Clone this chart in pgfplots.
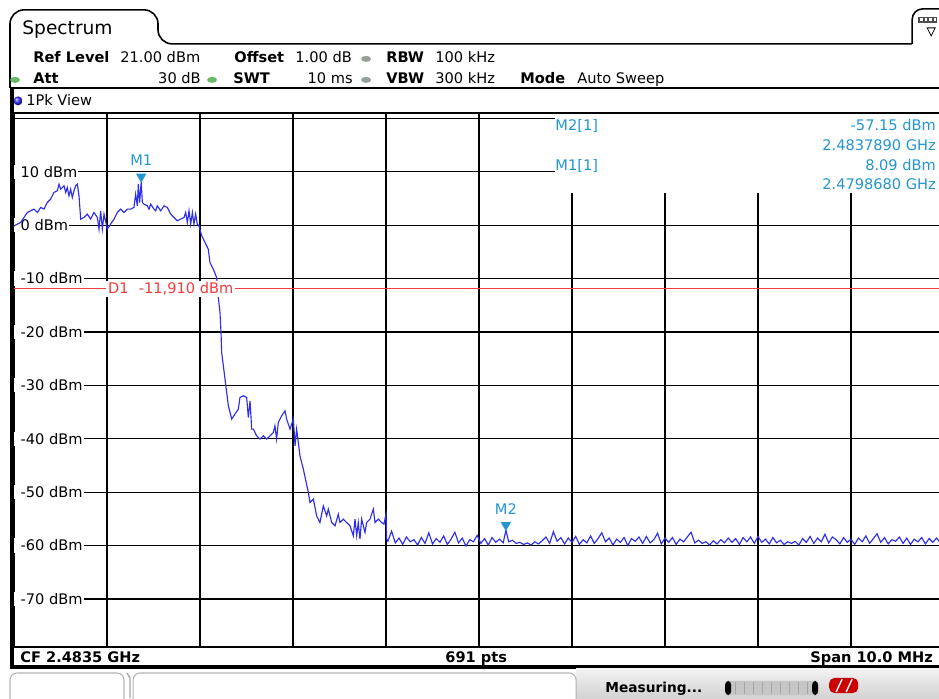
\documentclass[border=0pt]{standalone}
\usepackage{fontspec}
\setmainfont{DejaVu Sans}
\usepackage{pgfplots}
\pgfplotsset{compat=1.18}
\definecolor{trace}{RGB}{45,45,235}
\definecolor{mkc}{RGB}{35,150,210}
\definecolor{dline}{RGB}{240,60,60}
\definecolor{ledg}{RGB}{105,185,105}
\definecolor{ledq}{RGB}{150,160,150}
\newcommand\sz{\fontsize{8.3}{10}\selectfont}

\begin{document}
\begin{tikzpicture}
\path[use as bounding box] (0,0) rectangle (18.78cm,13.96cm);
\clip (0,0) rectangle (18.78cm,13.96cm);

% screen frame, header and status bar (1 unit = 1 screen pixel)
\begin{scope}[x=0.02cm,y=0.02cm]
\draw[line width=0.9pt, rounded corners=8] (10,610) -- (10,688) -- (158,688) -- (158,654) -- (912,654);
\draw[line width=0.9pt, rounded corners=6] (912,654) -- (912,689) -- (960,689);
\fill[black!70] (918,675) rectangle (937,681);
\foreach \i in {0,1,2,3} \fill[white] (920+4.5*\i,676.5) rectangle (922.5+4.5*\i,679.5);
\draw[line width=0.5pt] (927,670) -- (935,670) -- (931,662) -- cycle;
\node[anchor=base west, inner sep=0, font=\fontsize{10.6}{12}\selectfont] at (22,663) {Spectrum};
\draw[line width=0.9pt] (10,610) -- (939,610);
% header rows
\node[anchor=base west, inner sep=0, font=\sz\bfseries] at (33,635) {Ref Level};
\node[anchor=base west, inner sep=0, font=\sz] at (120,635) {21.00 dBm};
\node[anchor=base west, inner sep=0, font=\sz\bfseries] at (234,635) {Offset};
\node[anchor=base west, inner sep=0, font=\sz] at (295,635) {1.00 dB};
\fill[ledq] (366,639) ellipse (5 and 3);
\node[anchor=base west, inner sep=0, font=\sz\bfseries] at (386,635) {RBW};
\node[anchor=base west, inner sep=0, font=\sz] at (435,635) {100 kHz};
\fill[ledg] (15,618) ellipse (5 and 3);
\node[anchor=base west, inner sep=0, font=\sz\bfseries] at (33,614) {Att};
\node[anchor=base east, inner sep=0, font=\sz] at (201,614) {30 dB};
\fill[ledg] (212,618) ellipse (5 and 3);
\node[anchor=base west, inner sep=0, font=\sz\bfseries] at (233,614) {SWT};
\node[anchor=base east, inner sep=0, font=\sz] at (353,614) {10 ms};
\fill[ledq] (366,618) ellipse (5 and 3);
\node[anchor=base west, inner sep=0, font=\sz\bfseries] at (386,614) {VBW};
\node[anchor=base west, inner sep=0, font=\sz] at (435,614) {300 kHz};
\node[anchor=base west, inner sep=0, font=\sz\bfseries] at (520,614) {Mode};
\node[anchor=base west, inner sep=0, font=\sz] at (577,614) {Auto Sweep};
\shade[ball color=blue!80] (18,597) circle (4.5);
\node[anchor=base west, inner sep=0, font=\sz] at (26,592) {1Pk View};
% bottom line and status bar
\draw[line width=2.2pt] (12,610) -- (12,31);
\draw[line width=2.2pt] (10,31) -- (939,31);
\node[anchor=base west, inner sep=0, font=\sz\bfseries] at (20,35) {CF 2.4835 GHz};
\node[anchor=base west, inner sep=0, font=\sz\bfseries] at (445,35) {691 pts};
\node[anchor=base east, inner sep=0, font=\sz\bfseries] at (933,35) {Span 10.0 MHz};
\shade[top color=gray!10, bottom color=gray!35] (576,0) rectangle (939,29);
\draw[gray!60, line width=0.6pt, rounded corners=4] (10,-10) -- (10,25) -- (124,25) -- (124,-10);
\draw[gray!60, line width=0.6pt, rounded corners=4] (133,-10) -- (133,25) -- (576,25) -- (576,-10);
\draw[gray!70, line width=0.8pt] (127,25) -- (130,20) -- (130,0);
\node[anchor=base west, inner sep=0, font=\fontsize{7.8}{9}\selectfont\bfseries] at (605,6) {Measuring...};
\fill[gray!45, rounded corners=2] (725,3) rectangle (818,17);
\foreach \i in {0,...,8} \draw[gray!70, line width=0.4pt] (735+9*\i,4) -- (735+9*\i,16);
\fill[black, rounded corners=2] (725,3) rectangle (731,17);
\fill[black, rounded corners=2] (812,3) rectangle (818,17);
\fill[red!80!black, rounded corners=3] (829,5) rectangle (858,20);
\draw[white, line width=0.8pt] (836,6) -- (842,19) (846,6) -- (852,19);
\end{scope}

\begin{axis}[
  at={(0.28cm,1.02cm)}, anchor=south west,
  width=18.6cm, height=10.68cm, scale only axis,
  xmin=2478.5, xmax=2488.5, ymin=-79, ymax=21,
  xtick={2479.5,2480.5,...,2487.5}, ytick={-70,-60,...,20},
  xticklabels={}, yticklabels={}, major tick length=0pt,
  grid=major, major grid style={black, line width=0.7pt},
  axis line style={black, line width=0.8pt},
]
% level labels on the left, drawn under the trace
\node[anchor=west, fill=white, inner xsep=0.6pt, inner ysep=0.8pt, font=\sz] at (axis cs:2478.5,10) {\kern3pt 10 dBm};
\node[anchor=west, fill=white, inner xsep=0.6pt, inner ysep=0.8pt, font=\sz] at (axis cs:2478.5,0) {\kern3pt 0 dBm};
\node[anchor=west, fill=white, inner xsep=0.6pt, inner ysep=0.8pt, font=\sz] at (axis cs:2478.5,-10) {\kern3pt -10 dBm};
\node[anchor=west, fill=white, inner xsep=0.6pt, inner ysep=0.8pt, font=\sz] at (axis cs:2478.5,-20) {\kern3pt -20 dBm};
\node[anchor=west, fill=white, inner xsep=0.6pt, inner ysep=0.8pt, font=\sz] at (axis cs:2478.5,-30) {\kern3pt -30 dBm};
\node[anchor=west, fill=white, inner xsep=0.6pt, inner ysep=0.8pt, font=\sz] at (axis cs:2478.5,-40) {\kern3pt -40 dBm};
\node[anchor=west, fill=white, inner xsep=0.6pt, inner ysep=0.8pt, font=\sz] at (axis cs:2478.5,-50) {\kern3pt -50 dBm};
\node[anchor=west, fill=white, inner xsep=0.6pt, inner ysep=0.8pt, font=\sz] at (axis cs:2478.5,-60) {\kern3pt -60 dBm};
\node[anchor=west, fill=white, inner xsep=0.6pt, inner ysep=0.8pt, font=\sz] at (axis cs:2478.5,-70) {\kern3pt -70 dBm};

% 1Pk trace (MHz, dBm)
\addplot[trace, line width=0.65pt, mark=none] coordinates {
(2478.500,-0.12) (2478.572,0.50) (2478.643,2.37) (2478.679,2.68) (2478.715,3.00)
(2478.751,2.37) (2478.787,3.31) (2478.823,3.00) (2478.858,4.24) (2478.894,4.87)
(2478.930,6.12) (2478.966,6.43) (2478.984,7.68) (2479.002,6.74) (2479.038,7.37)
(2479.056,6.12) (2479.073,7.05) (2479.091,5.49) (2479.109,6.74) (2479.127,5.18)
(2479.145,6.43) (2479.163,7.37) (2479.181,7.68) (2479.199,5.49) (2479.217,1.12)
(2479.253,1.44) (2479.289,2.06) (2479.324,1.12) (2479.360,2.37) (2479.396,1.44)
(2479.414,-0.75) (2479.432,2.68) (2479.450,-0.75) (2479.468,2.06) (2479.504,-0.75)
(2479.539,0.19) (2479.575,1.12) (2479.611,2.37) (2479.647,3.00) (2479.683,2.37)
(2479.719,3.00) (2479.754,3.00) (2479.790,3.31) (2479.808,5.81) (2479.826,3.62)
(2479.837,7.68) (2479.851,4.24) (2479.868,8.09) (2479.880,4.24) (2479.898,3.93)
(2479.934,3.62) (2479.952,3.00) (2479.970,3.93) (2480.005,3.00) (2480.023,2.68)
(2480.041,3.62) (2480.077,2.68) (2480.113,3.62) (2480.149,3.31) (2480.185,2.06)
(2480.220,1.44) (2480.256,0.81) (2480.292,1.12) (2480.328,1.44) (2480.346,2.37)
(2480.364,0.50) (2480.382,2.68) (2480.400,0.19) (2480.418,2.37) (2480.435,0.19)
(2480.453,2.06) (2480.471,0.19) (2480.489,-0.12) (2480.518,-2.00) (2480.554,-3.25)
(2480.589,-4.49) (2480.607,-6.99) (2480.643,-8.24) (2480.679,-9.80) (2480.697,-13.55)
(2480.715,-16.35) (2480.726,-20.10) (2480.733,-23.85) (2480.751,-26.34) (2480.769,-28.84)
(2480.805,-33.83) (2480.841,-36.33) (2480.876,-35.39) (2480.912,-34.46) (2480.930,-32.27)
(2480.966,-31.96) (2481.002,-32.27) (2481.020,-36.02) (2481.038,-32.90) (2481.056,-38.20)
(2481.074,-38.20) (2481.109,-39.45) (2481.145,-40.07) (2481.181,-39.45) (2481.217,-40.07)
(2481.253,-39.45) (2481.289,-38.83) (2481.306,-37.58) (2481.324,-40.07) (2481.342,-36.95)
(2481.378,-35.71) (2481.414,-34.77) (2481.432,-36.33) (2481.468,-38.20) (2481.504,-36.33)
(2481.522,-41.32) (2481.539,-38.20) (2481.557,-40.70) (2481.575,-43.20) (2481.611,-45.69)
(2481.665,-50.06) (2481.683,-51.94) (2481.719,-51.31) (2481.754,-54.43) (2481.790,-55.68)
(2481.826,-52.56) (2481.862,-54.43) (2481.880,-53.18) (2481.916,-55.68) (2481.952,-56.30)
(2481.987,-54.12) (2482.005,-55.68) (2482.041,-55.06) (2482.077,-55.68) (2482.113,-56.30)
(2482.149,-58.18) (2482.167,-55.06) (2482.185,-58.18) (2482.202,-55.68) (2482.220,-58.80)
(2482.238,-55.06) (2482.274,-57.55) (2482.292,-55.68) (2482.328,-55.06) (2482.364,-53.18)
(2482.382,-55.68) (2482.418,-55.06) (2482.453,-55.68) (2482.478,-55.99) (2482.500,-54.12)
(2482.507,-58.80) (2482.52,-59.2) (2482.56,-57.3) (2482.60,-59.5) (2482.64,-58.6)
(2482.68,-59.8) (2482.72,-58.4) (2482.76,-59.3) (2482.80,-58.9) (2482.84,-59.9)
(2482.88,-58.5) (2482.92,-59.6) (2482.96,-57.6) (2483.00,-59.7) (2483.04,-58.7)
(2483.08,-59.4) (2483.12,-58.2) (2483.16,-59.8) (2483.20,-58.8) (2483.24,-57.5)
(2483.28,-59.5) (2483.32,-58.6) (2483.36,-60.1) (2483.40,-58.9) (2483.44,-59.3)
(2483.48,-58.1) (2483.52,-59.6) (2483.56,-58.7) (2483.60,-59.9) (2483.64,-58.5)
(2483.68,-59.4) (2483.72,-58.8) (2483.76,-59.5) (2483.789,-57.15) (2483.82,-59.3)
(2483.86,-59.0) (2483.90,-59.6) (2483.94,-59.4) (2483.98,-59.8) (2484.02,-59.5)
(2484.06,-59.9) (2484.10,-59.3) (2484.14,-59.7) (2484.18,-59.1) (2484.22,-58.4)
(2484.26,-59.6) (2484.30,-57.4) (2484.34,-59.2) (2484.38,-58.5) (2484.42,-59.7)
(2484.46,-58.6) (2484.50,-59.4) (2484.54,-58.3) (2484.58,-59.8) (2484.62,-58.9)
(2484.66,-59.5) (2484.70,-58.2) (2484.74,-59.6) (2484.78,-58.7) (2484.82,-57.6)
(2484.86,-59.3) (2484.90,-58.6) (2484.94,-59.9) (2484.98,-58.8) (2485.02,-59.4)
(2485.06,-58.5) (2485.10,-60.0) (2485.14,-58.7) (2485.18,-59.2) (2485.22,-58.4)
(2485.26,-59.6) (2485.30,-58.3) (2485.34,-59.5) (2485.38,-58.9) (2485.42,-57.7)
(2485.46,-59.7) (2485.50,-58.6) (2485.54,-59.4) (2485.58,-58.5) (2485.62,-59.8)
(2485.66,-58.8) (2485.70,-59.3) (2485.74,-58.4) (2485.78,-57.5) (2485.82,-59.5)
(2485.86,-59.0) (2485.90,-59.6) (2485.94,-59.3) (2485.98,-59.9) (2486.02,-59.1)
(2486.06,-59.7) (2486.10,-58.9) (2486.14,-59.5) (2486.18,-58.6) (2486.22,-59.4)
(2486.26,-58.7) (2486.30,-59.8) (2486.34,-58.5) (2486.38,-59.3) (2486.42,-58.4)
(2486.46,-59.6) (2486.50,-58.3) (2486.54,-59.4) (2486.58,-58.8) (2486.62,-59.7)
(2486.66,-58.5) (2486.70,-59.5) (2486.74,-59.0) (2486.78,-59.8) (2486.82,-59.3)
(2486.86,-59.6) (2486.90,-59.2) (2486.94,-59.9) (2486.98,-58.7) (2487.02,-59.4)
(2487.06,-58.3) (2487.10,-59.6) (2487.14,-58.6) (2487.18,-59.3) (2487.22,-57.9)
(2487.26,-59.5) (2487.30,-58.4) (2487.34,-58.9) (2487.38,-59.7) (2487.42,-58.5)
(2487.46,-59.4) (2487.50,-58.8) (2487.54,-59.8) (2487.58,-58.6) (2487.62,-59.3)
(2487.66,-58.2) (2487.70,-59.6) (2487.74,-58.7) (2487.78,-57.8) (2487.82,-59.4)
(2487.86,-58.5) (2487.90,-59.7) (2487.94,-58.9) (2487.98,-59.2) (2488.02,-58.4)
(2488.06,-59.6) (2488.10,-58.6) (2488.14,-59.8) (2488.18,-58.8) (2488.22,-59.3)
(2488.26,-58.5) (2488.30,-59.7) (2488.34,-58.7) (2488.38,-59.4) (2488.42,-58.6)
(2488.46,-59.5) (2488.50,-59.0)
};

% display line D1
\addplot[dline, line width=0.6pt, mark=none] coordinates {(2478.5,-11.91) (2488.5,-11.91)};
\node[anchor=west, fill=white, text=dline, inner xsep=1pt, inner ysep=0.8pt, font=\sz] at (axis cs:2479.49,-11.91) {D1\hspace{0.7em}-11,910 dBm};

% markers M1, M2
\addplot[only marks, mkc, mark=triangle*, mark size=3pt,
  mark options={yshift=3pt, rotate=180, fill=mkc, draw=mkc}] coordinates {(2479.868,8.09) (2483.789,-57.15)};
\node[anchor=south, inner sep=0, text=mkc, yshift=9pt, font=\sz] at (axis cs:2479.868,8.09) {M1};
\node[anchor=south, inner sep=0, text=mkc, yshift=9pt, font=\sz] at (axis cs:2483.789,-57.15) {M2};
\end{axis}

% marker readout box
\begin{scope}[x=0.02cm,y=0.02cm]
\fill[white] (555,505) rectangle (939,584);
\node[anchor=base west, inner sep=0, font=\sz, text=mkc] at (555,567) {M2[1]};
\node[anchor=base west, inner sep=0, font=\sz, text=mkc] at (555,527) {M1[1]};
\node[anchor=base east, inner sep=0, font=\sz, text=mkc] at (936,567) {-57.15 dBm};
\node[anchor=base east, inner sep=0, font=\sz, text=mkc] at (936,547) {2.4837890 GHz};
\node[anchor=base east, inner sep=0, font=\sz, text=mkc] at (936,527) {8.09 dBm};
\node[anchor=base east, inner sep=0, font=\sz, text=mkc] at (936,508) {2.4798680 GHz};
\end{scope}
\end{tikzpicture}
\end{document}
